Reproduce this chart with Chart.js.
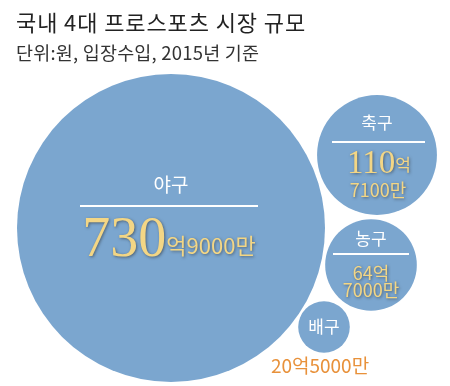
<!DOCTYPE html>
<html><head><meta charset="utf-8">
<script src="https://cdn.jsdelivr.net/npm/chart.js@4/dist/chart.umd.min.js"></script>
<style>
html,body{margin:0;padding:0;background:#fff;}
#wrap{position:relative;width:450px;height:386px;overflow:hidden;}
canvas{position:absolute;left:0;top:0;}
.t{position:absolute;left:16px;font-family:"Noto Sans CJK KR","Noto Sans",sans-serif;white-space:nowrap;line-height:1;}
#title{top:10px;font-size:22px;color:#222;letter-spacing:0.9px;}
#sub{top:43px;font-size:18.5px;color:#333;letter-spacing:0.2px;}
</style></head>
<body><div id="wrap">
<canvas id="c" width="450" height="386"></canvas>
<div class="t" id="title">국내 4대 프로스포츠 시장 규모</div>
<div class="t" id="sub">단위:원, 입장수입, 2015년 기준</div>
</div>
<script>
// data
const sports = ['야구', '축구', '농구', '배구'];
const revenueEok = [730.9, 110.71, 64.7, 20.5]; // 억원
const bigNumber = ['730', '110', '64', '20'];
const restLabel = ['억9000만', '억', '억', '억5000만'];
const secondLine = ['', '7100만', '7000만', ''];
// layout of the packed bubbles (canvas units)
const packX = [171, 377, 371, 324];
const packY = [228, 155, 265, 327];
const radiusPerSqrt = 154 / Math.sqrt(730.9);

const FILL = '#7ba6cf';
const GOLD = '#f3d685';
const SANS = '"Noto Sans CJK KR","Noto Sans",sans-serif';
const SERIF = '"Liberation Serif","DejaVu Serif",serif';

const labelPlugin = {
  id: 'bubbleLabels',
  afterDatasetsDraw(chart) {
    const ctx = chart.ctx;
    const pts = chart.getDatasetMeta(0).data;
    ctx.save();
    ctx.textAlign = 'center';
    // 야구
    let p = pts[0];
    ctx.fillStyle = '#fff';
    ctx.font = '19px ' + SANS;
    ctx.textBaseline = 'middle';
    ctx.fillText(sports[0], p.x, p.y - 43);
    ctx.fillRect(p.x - 91, p.y - 23, 178, 2);
    drawValue(ctx, p.x - 2, p.y + 28, bigNumber[0], 56, restLabel[0], 22);
    // 축구
    p = pts[1];
    ctx.fillStyle = '#fff';
    ctx.font = '17px ' + SANS;
    ctx.textBaseline = 'middle';
    ctx.fillText(sports[1], p.x, p.y - 32);
    ctx.fillRect(p.x - 45, p.y - 14, 93, 2);
    drawValue(ctx, p.x + 2, p.y + 18, bigNumber[1], 33, restLabel[1], 17);
    gold(ctx, secondLine[1], p.x + 1, p.y + 42, '18px ' + SANS);
    // 농구
    p = pts[2];
    ctx.fillStyle = '#fff';
    ctx.font = '17px ' + SANS;
    ctx.textBaseline = 'middle';
    ctx.fillText(sports[2], p.x, p.y - 26);
    ctx.fillRect(p.x - 38, p.y - 12, 76, 2);
    gold(ctx, bigNumber[2] + restLabel[2], p.x, p.y + 15, '18px ' + SANS);
    gold(ctx, secondLine[2], p.x, p.y + 32, '18px ' + SANS);
    // 배구
    p = pts[3];
    ctx.fillStyle = '#fff';
    ctx.font = '17px ' + SANS;
    ctx.textBaseline = 'middle';
    ctx.fillText(sports[3], p.x, p.y);
    ctx.fillStyle = '#e8913a';
    ctx.font = '19px ' + SANS;
    ctx.textBaseline = 'alphabetic';
    ctx.fillText(bigNumber[3] + restLabel[3], p.x - 4, p.y + 46);
    ctx.restore();
  }
};

function gold(ctx, text, x, y, font, align) {
  ctx.save();
  ctx.font = font;
  ctx.textAlign = align || 'center';
  ctx.textBaseline = 'alphabetic';
  ctx.shadowColor = 'rgba(40,40,40,0.55)';
  ctx.shadowBlur = 3;
  ctx.shadowOffsetX = 1;
  ctx.shadowOffsetY = 1;
  ctx.fillStyle = GOLD;
  ctx.fillText(text, x, y);
  ctx.restore();
}
function drawValue(ctx, cx, baseline, big, bigSize, rest, restSize) {
  ctx.save();
  ctx.font = bigSize + 'px ' + SERIF;
  const w1 = ctx.measureText(big).width;
  ctx.font = restSize + 'px ' + SANS;
  const w2 = ctx.measureText(rest).width;
  const left = cx - (w1 + w2) / 2;
  ctx.restore();
  gold(ctx, big, left, baseline, bigSize + 'px ' + SERIF, 'left');
  gold(ctx, rest, left + w1, baseline - 2, restSize + 'px ' + SANS, 'left');
}

new Chart(document.getElementById('c'), {
  type: 'bubble',
  data: {
    datasets: [{
      data: revenueEok.map((v, i) => ({ x: packX[i], y: packY[i], v: v })),
      radius: ctx => radiusPerSqrt * Math.sqrt(ctx.raw ? ctx.raw.v : 0),
      backgroundColor: FILL,
      borderWidth: 0,
      hoverRadius: 0
    }]
  },
  options: {
    responsive: false,
    animation: false,
    events: [],
    clip: false,
    layout: { padding: 0, autoPadding: false },
    plugins: { legend: { display: false }, tooltip: { enabled: false } },
    scales: {
      x: { type: 'linear', min: 0, max: 450, display: false },
      y: { type: 'linear', min: 0, max: 386, reverse: true, display: false }
    }
  },
  plugins: [labelPlugin]
});
</script>
</body></html>
